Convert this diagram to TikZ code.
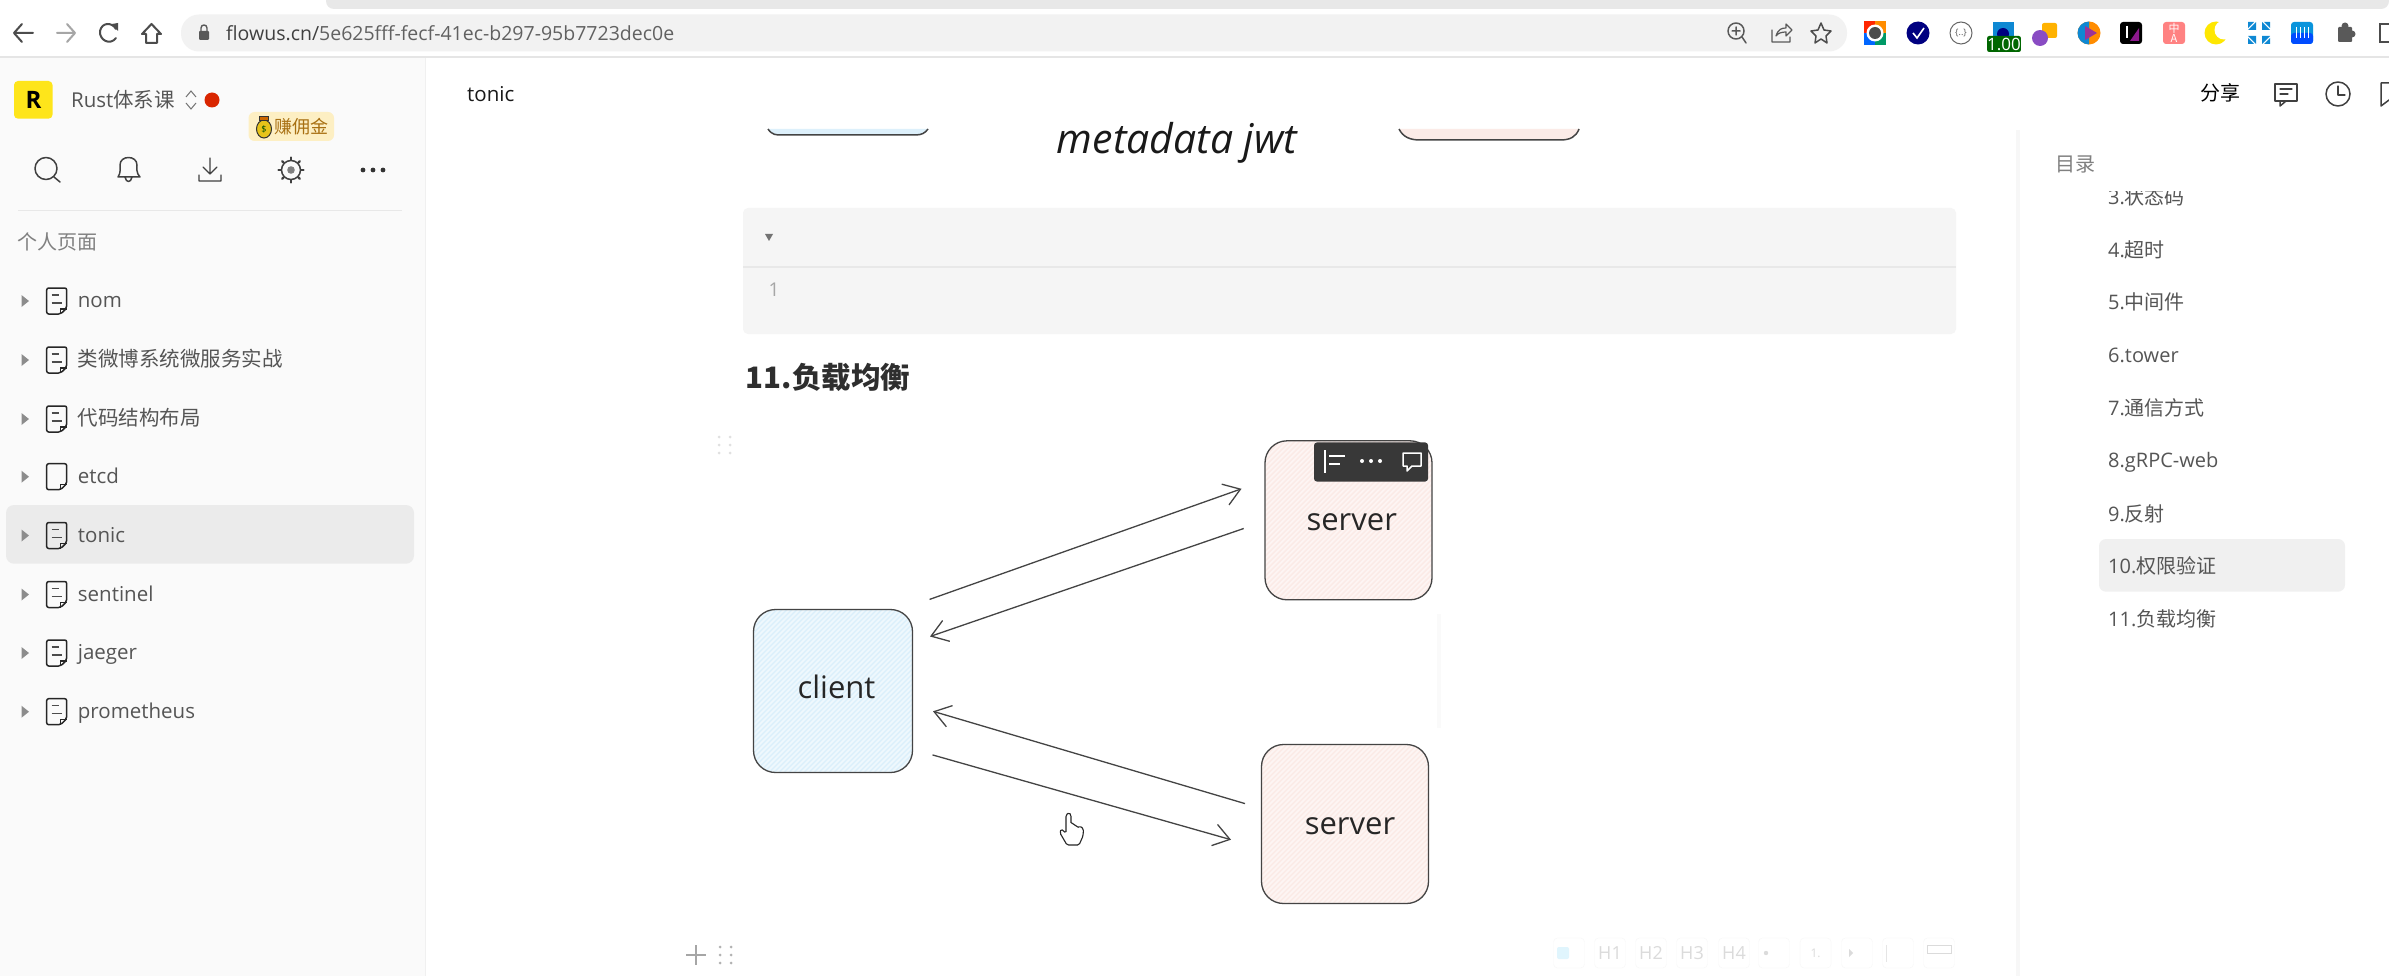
\documentclass[tikz,border=0pt]{standalone}
\usepackage{fontspec}
\setmainfont{Open Sans}
\newfontfamily\cjk{Noto Sans CJK SC}
\usetikzlibrary{arrows.meta,patterns,shapes.geometric}
\newcommand{\fsz}[1]{\fontsize{#1}{#1}\selectfont}
\definecolor{sidebg}{HTML}{FAFAFA}
\definecolor{ink}{HTML}{444444}
\definecolor{txt}{HTML}{555555}
\definecolor{clientfill}{HTML}{DDF0FB}
\definecolor{serverfill}{HTML}{FBEBE7}
\tikzset{
  lbl/.style={inner sep=0pt,anchor=west,text=txt},
  sidetxt/.style={lbl,font=\fsz{20.5},text height=16pt,text depth=3pt},
  cjkside/.style={lbl,font=\cjk\fsz{20.5},text height=14.5pt,text depth=3pt},
  toctxt/.style={lbl,font=\fsz{20},text height=16pt,text depth=3pt},
  box/.style={draw=ink,line width=1.3pt,rounded corners=22pt,inner sep=0pt,font=\fsz{31},text=black!85},
  hatchA/.style={fill=#1,path picture={
    \foreach \d in {-175,-170,...,175}{
      \draw[white,line width=1.6pt,opacity=.55] ([shift={(\d-90,90)}]path picture bounding box.center) -- ([shift={(\d+90,-90)}]path picture bounding box.center);
    }}},
  link/.style={draw=ink,line width=1.3pt,-{Straight Barb[length=16pt,width=22pt,line width=1.3pt]}},
  icn/.style={draw=black!75,line width=1.5pt,line cap=round,line join=round},
  chrome/.style={draw=black!70,line width=2pt,line cap=round,line join=round},
  tbtn/.style={draw=black!3,rounded corners=4pt,minimum width=31pt,minimum height=30pt,inner sep=0pt,font=\fsz{18},text=black!14},
  tri/.style={fill=black!45,draw=none},
  docicon/.pic={
    \draw[draw=black!85,line width=1.5pt,line join=round,rounded corners=2pt] (-10,-13) -- (10,-13) -- (10,7) -- (4,13) -- (-10,13) -- cycle;
    \draw[draw=black!85,line width=1.1pt] (4,13) -- (4,8) -- (10,8);
  },
  doclines/.pic={
    \draw[draw=black!70,line width=1.3pt] (-5,-6) -- (2,-6) (-5,2) -- (5,2);
  },
}
\begin{document}
\begin{tikzpicture}[x=1pt,y=-1pt]
\useasboundingbox (0,0) rectangle (2389,976);
\fill[white] (0,0) rectangle (2389,976);
% browser chrome
\fill[black!9!white,rounded corners=8pt] (326,-12) rectangle (2389,9);
\fill[black!5!white,rounded corners=18pt] (181,14.5) rectangle (1847,51.5);
\fill[black!10] (0,56.5) rectangle (2389,58.5);
\draw[chrome] (33,33) -- (14,33) (22,24) -- (14,33) -- (22,42);
\draw[chrome,draw=black!35] (57,33) -- (75,33) (67,24) -- (75,33) -- (67,42);
\draw[chrome] (116,29) .. controls (112,22) and (102,22) .. (100,31) .. controls (99,40) and (110,46) .. (116,38);
\fill[black!70] (112,24) -- (118,23) -- (118,31) -- cycle;
\draw[chrome] (142,34) -- (151.5,24) -- (161,34) -- (157,34) -- (157,43) -- (146,43) -- (146,34) -- cycle;
\fill[black!65,rounded corners=1pt] (199,31) rectangle (209,40);
\draw[black!65,line width=1.4pt] (201,31) -- (201,28) .. controls (201,24) and (207,24) .. (207,28) -- (207,31);
\node[lbl,text=black!75,font=\fsz{19.5}] (url) at (226,33) {flowus.cn/\textcolor{black!62}{5e625fff-fecf-41ec-b297-95b7723dec0e}};
\draw[icn,draw=black!65] (1736,31) circle (8);
\draw[icn,draw=black!65] (1742,37) -- (1746,43) (1732,31) -- (1740,31) (1736,27) -- (1736,35);
\draw[icn,draw=black!65,line width=1.2pt] (1772,30) -- (1772,42) -- (1790,42) -- (1790,37) (1776,36) .. controls (1778,29) and (1782,28) .. (1786,28) -- (1786,24) -- (1792,30) -- (1786,36) -- (1786,32) .. controls (1782,32) and (1778,33) .. (1776,36);
\draw[icn,draw=black!70] (1821,23) -- (1824,30) -- (1831,31) -- (1826,36) -- (1827,43) -- (1821,39) -- (1815,43) -- (1816,36) -- (1811,31) -- (1818,30) -- cycle;
% extensions
\fill[red!70!orange] (1875,33) ++(-11,-12) rectangle ++(11,12);
\fill[orange!90!yellow] (1875,33) ++(0,-12) rectangle ++(11,12);
\fill[green!60!blue] (1875,33) rectangle ++(11,12);
\fill[blue!60!cyan] (1875,33) rectangle ++(-11,12);
\fill[white] (1875,33) circle (8.5);
\fill[black!70] (1875,33) circle (6);
\fill[blue!50!black] (1918,33) circle (11.5);
\draw[white,line width=1.6pt] (1913,33) -- (1917,38) -- (1924,28);
\draw[black!60,line width=1pt] (1961,33) circle (11);
\node[inner sep=0pt,font=\fsz{9},text=black!65] (ext3) at (1961,33) {\{..\}};
\fill[cyan!70!blue] (1992.5,22.5) rectangle (2014,37);
\fill[blue!50!black] (2003,34) circle (6);
\node[fill=green!40!black,rounded corners=2pt,minimum width=32pt,minimum height=16pt,inner sep=0pt,text=white,font=\fsz{17}] (badge) at (2004,44) {1.00};
\fill[orange!60!yellow,rounded corners=2pt] (2042,23) rectangle (2057,38);
\fill[blue!55!purple!70!white] (2040,38) circle (8);
\fill[orange!90!yellow] (2089,33) circle (11.5);
\begin{scope}
\clip (2077,21) rectangle (2089,45);
\fill[cyan!70!blue] (2089,33) circle (11.5);
\end{scope}
\fill[violet!80!white] (2085,26) -- (2097,33) -- (2085,40) -- cycle;
\fill[black,rounded corners=3pt] (2120,22) rectangle (2142,44);
\fill[violet!90!white] (2130,41) -- (2139,41) -- (2139,28) -- cycle;
\draw[white,line width=1.8pt] (2127,26) -- (2127,38);
\fill[pink!40!red!70!white,rounded corners=3pt] (2163,22) rectangle (2185,44);
\node[inner sep=0pt,text=white,font=\cjk\fsz{11},align=center] (ext8) at (2174,33) {中\\[-1pt]A};
\fill[yellow!90!orange] (2216,33) circle (11.5);
\fill[white] (2224,30) circle (9.5);
\foreach \sx/\sy in {-1/-1,1/-1,-1/1,1/1}{
  \fill[cyan!70!blue] (2259+\sx*3,33+\sy*3) -- (2259+\sx*11,33+\sy*3) -- (2259+\sx*3,33+\sy*11) -- cycle;
  \fill[cyan!70!blue] (2259+\sx*11,33+\sy*11) -- (2259+\sx*5,33+\sy*11) -- (2259+\sx*11,33+\sy*5) -- cycle;
}
\fill[cyan!80!blue,rounded corners=3pt] (2291,22) rectangle (2313,44);
\fill[blue!70!cyan,rounded corners=3pt] (2291,33) rectangle (2313,44);
\foreach \dx in {2296,2300,2304,2308}{\draw[white,line width=1pt] (\dx,27) -- (\dx,38);}
\fill[black!65,rounded corners=1pt] (2338,27) rectangle (2352,42);
\fill[black!65] (2345,26) circle (3.5) (2352,34) circle (3.5);
\draw[black!70,line width=2pt] (2389,24) -- (2380,24) -- (2380,42) -- (2389,42);
% sidebar
\fill[sidebg] (0,58.5) rectangle (425,976);
\draw[black!6,line width=1pt] (425,58.5) -- (425,976);
\fill[yellow!85!orange!90!white,rounded corners=4pt] (14,81) rectangle (52.5,118.7);
\node[inner sep=0pt,font=\bfseries\fsz{24},text=black] (logo) at (33.5,100) {R};
\node[lbl,font=\fsz{20.5}] (space) at (71,100) {Rust{\cjk 体系课}};
\draw[black!55,line width=1pt] (186,97) -- (191,91) -- (196,97) (186,103) -- (191,109) -- (196,103);
\fill[red!65!orange!85!black] (212,100) circle (7.5);
\definecolor{badgebg}{HTML}{FDEFC3}
\definecolor{badgetx}{HTML}{A87012}
\fill[badgebg,rounded corners=6pt] (248.5,112) rectangle (334,141);
\draw[black!80,fill=yellow!70!orange!90!black,line width=1pt] (264,129) ellipse (7.5 and 9);
\draw[black!80,fill=orange!80!black,line width=1pt] (259.5,117) rectangle (268.5,121);
\node[inner sep=0pt,font=\fsz{9},text=green!30!black] (bag) at (264,129) {\$};
\node[lbl,text=badgetx,font=\cjk\fsz{18}] (promo) at (274.5,127) {赚佣金};
% sidebar icons
\draw[icn] (46,168.5) circle (11);
\draw[icn] (54,177) -- (60,182);
\draw[icn] (118,177) .. controls (121,173) and (120,168) .. (120,165) .. controls (120,155) and (137,155) .. (137,165) .. controls (137,168) and (136,173) .. (140,177) -- cycle (125,177) .. controls (126,183) and (131,183) .. (132,177);
\draw[icn,line width=1.2pt] (210,158) -- (210,174) (203,167) -- (210,174) -- (217,167) (199,175) -- (199,181) -- (221,181) -- (221,175);
\draw[icn] (291,170) circle (9.5);
\fill[black!50] (291,170) circle (3.8);
\foreach \a in {0,45,...,315}{\draw[icn,line width=2.4pt] (291,170) ++(\a:10.5) -- ++(\a:2);}
\foreach \dx in {363,373,383}{\fill[black!80] (\dx,170) circle (2.4);}
\draw[black!9,line width=1pt] (18,211) -- (402,211);
\node[lbl,text=black!50,font=\cjk\fsz{20}] (personal) at (17,242) {个人页面};
% sidebar selected row
\fill[black!8,rounded corners=8pt] (6,505) rectangle (414,563.7);
% sidebar rows
\foreach \yy/\nm/\tx in {
  301/r1/nom,
  360/r2/{\cjk 类微博系统微服务实战},
  419/r3/{\cjk 代码结构布局},
  476.7/r4/etcd,
  535.5/r5/tonic,
  594.5/r6/sentinel,
  653/r7/jaeger,
  711.7/r8/prometheus}{
  \fill[tri] (21.5,\yy-6) -- (29,\yy) -- (21.5,\yy+6) -- cycle;
  \pic at (56.7,\yy) {docicon};
  \node[sidetxt] (\nm) at (77.7,\yy) {\tx};
}
\foreach \yy in {301,360,419,535.5,594.5,653,711.7}{\pic at (56.7,\yy) {doclines};}
% page header
\node[lbl,text=black!90,font=\fsz{20.5}] (title) at (467,94) {tonic};
\node[lbl,text=black,font=\cjk\fsz{20}] (share) at (2200,93) {分享};
\draw[icn,draw=black!75] (2275,84) rectangle (2297,101);
\draw[icn,draw=black!75] (2280,101) -- (2280,106) -- (2286,101);
\draw[icn,draw=black!75,line width=1.2pt] (2280,89) -- (2292,89) (2280,94) -- (2288,94);
\draw[icn,draw=black!75] (2338,94) circle (12);
\draw[icn,draw=black!75,line width=1.2pt] (2338,86) -- (2338,95) -- (2345,95);
\draw[icn,draw=black!75] (2389,83) -- (2381,83) -- (2381,106) -- (2389,100);
% clipped previous diagram
\draw[fill=clientfill,draw=ink,line width=1.5pt] (768,129) .. controls (772,135) and (776,135) .. (782,135) -- (915,135) .. controls (922,135) and (925,133) .. (928,129);
\draw[fill=serverfill,draw=ink,line width=1.5pt] (1399,129) .. controls (1403,137) and (1410,140) .. (1420,140) -- (1560,140) .. controls (1570,140) and (1576,137) .. (1579,129);
\node[inner sep=0pt,font=\itshape\fsz{41},text=black!90] (meta) at (1177,143) {metadata jwt};
% code block
\fill[black!4,rounded corners=5pt] (743,208) rectangle (1956,334);
\draw[black!9,line width=1.5pt] (743,267) -- (1956,267);
\fill[black!55] (765,234) -- (773,234) -- (769,241) -- cycle;
\node[inner sep=0pt,text=black!35,font=\fsz{19}] (lineno) at (774,290) {1};
\node[lbl,text=black!82,font=\cjk\bfseries\fsz{29.5}] (heading) at (745.6,377) {11.负载均衡};
% drag handles
\foreach \dx in {719,730}{\foreach \dy in {437,445,453}{\fill[black!12] (\dx,\dy) circle (1.5);}}
\foreach \dx in {720,731}{\foreach \dy in {947,955,963}{\fill[black!30] (\dx,\dy) circle (1.5);}}
\draw[black!35,line width=1.6pt] (686,955) -- (706,955) (696,945) -- (696,965);
% faint strip
\fill[black!2] (1437,614) rectangle (1441,728);
% nodes of the diagram
\node[box,hatchA=clientfill,minimum width=159pt,minimum height=163pt] (client) at (833,691) {};
\node[box,hatchA=serverfill,minimum width=167pt,minimum height=159pt] (serverA) at (1348.5,520.3) {};
\node[box,hatchA=serverfill,minimum width=167pt,minimum height=159pt] (serverB) at (1345,824) {};
\node[inner sep=0pt,font=\fsz{31},text=black!85] (clientlbl) at (836.5,687) {client};
\node[inner sep=0pt,font=\fsz{31},text=black!85] (serverAlbl) at (1351.7,522) {server};
\node[inner sep=0pt,font=\fsz{31},text=black!85] (serverBlbl) at (1350,826) {server};
% connectors
\coordinate (cA1) at (929.6,599.4);
\coordinate (sA1) at (1241.5,488.8);
\coordinate (sA2) at (1243.7,528.5);
\coordinate (cA2) at (930,636.5);
\coordinate (sB1) at (1245,803.6);
\coordinate (cB1) at (933,711.3);
\coordinate (cB2) at (932.5,754.9);
\coordinate (sB2) at (1231,839.7);
\draw[link] (cA1) -- (sA1);
\draw[link] (sA2) -- (cA2);
\draw[link] (sB1) -- (cB1);
\draw[link] (cB2) -- (sB2);
% floating toolbar
\fill[black!78,rounded corners=3pt] (1314,442.4) rectangle (1428,481.6);
\draw[white,line width=1.4pt] (1325,450) -- (1325,473);
\draw[white,line width=2pt] (1329,456) -- (1345,456) (1329,464) -- (1340,464);
\foreach \dx in {1362,1371,1380}{\fill[white] (\dx,461) circle (2);}
\draw[white,line width=1.5pt,line join=round] (1403,453) -- (1421,453) -- (1421,466) -- (1412,466) -- (1407,471) -- (1407,466) -- (1403,466) -- cycle;
% hand cursor
\draw[fill=white,draw=black!85,line width=1.1pt,rounded corners=1.5pt] (1067,845) -- (1060,833) -- (1061,829) -- (1066,833) -- (1066,815) -- (1069,812.5) -- (1071,815) -- (1071,824) -- (1074,823) -- (1074,826) -- (1077,825) -- (1077,828) -- (1080,826) -- (1083.5,829) -- (1083,836) -- (1079,845) -- cycle;
% table of contents
\fill[black!3] (2016,130) rectangle (2020,976);
\node[lbl,text=black!50,font=\cjk\fsz{20}] (toc) at (2055,164) {目录};
\fill[black!6,rounded corners=7pt] (2099,539) rectangle (2345,591.7);
\begin{scope}
\clip (2040,191.5) rectangle (2389,220);
\node[toctxt] (t3) at (2108,198) {3.{\cjk 状态码}};
\end{scope}
\node[toctxt] (t4) at (2108,251) {4.{\cjk 超时}};
\node[toctxt] (t5) at (2108,303) {5.{\cjk 中间件}};
\node[toctxt] (t6) at (2108,355.7) {6.tower};
\node[toctxt] (t7) at (2108,408.7) {7.{\cjk 通信方式}};
\node[toctxt] (t8) at (2108,460.7) {8.gRPC-web};
\node[toctxt] (t9) at (2108,515) {9.{\cjk 反射}};
\node[toctxt] (t10) at (2108,567) {10.{\cjk 权限验证}};
\node[toctxt] (t11) at (2108,620) {11.{\cjk 负载均衡}};
% faint bottom toolbar
\node[tbtn] (b1) at (1569,953) {};
\fill[cyan!12!white,rounded corners=2pt] (1557,947) rectangle (1569,959);
\node[tbtn] (b2) at (1610,953) {H1};
\node[tbtn] (b3) at (1651,953) {H2};
\node[tbtn] (b4) at (1692,953) {H3};
\node[tbtn] (b5) at (1734,953) {H4};
\node[tbtn] (b6) at (1774,953) {};
\fill[black!14] (1766,953) circle (2.2);
\node[tbtn] (b7) at (1815.6,953) {\fsz{12}1.};
\node[tbtn] (b8) at (1857,953) {};
\fill[black!14] (1849,949) -- (1853,953) -- (1849,957) -- cycle;
\node[tbtn] (b9) at (1898,953) {};
\draw[black!10,line width=1pt] (1886,945) -- (1886,962);
\node[tbtn] (b10) at (1939,953) {};
\draw[black!14,line width=1pt] (1927,945) rectangle (1951,953);
\end{tikzpicture}
\end{document}
